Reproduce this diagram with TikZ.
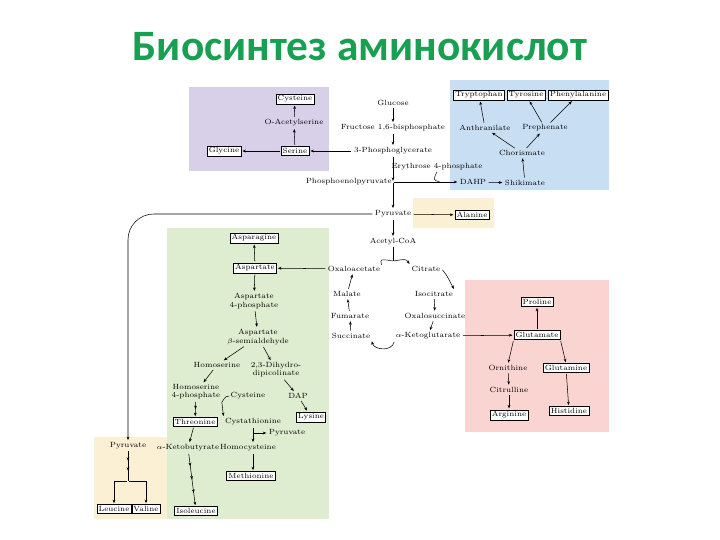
\documentclass[tikz,border=0pt]{standalone}
\usepackage{fontspec}
\newfontfamily\titlefont{Carlito}
\usetikzlibrary{arrows.meta,decorations.markings}

\definecolor{titlegreen}{RGB}{24,160,82}
\definecolor{serbg}{RGB}{216,208,232}
\definecolor{arobg}{RGB}{200,222,242}
\definecolor{alabg}{RGB}{252,240,212}
\definecolor{aspbg}{RGB}{222,236,208}
\definecolor{glubg}{RGB}{249,212,208}

\tikzset{
  met/.style={font=\fontsize{6.4}{7}\selectfont, inner sep=1pt, align=center},
  aa/.style={met, draw, fill=white, inner sep=1.5pt, line width=0.4pt},
  rxn/.style={-{Stealth[length=3pt,width=2.4pt]}, line width=0.45pt, shorten <=1pt, shorten >=1pt},
  multistep/.style={line width=0.45pt, decoration={markings,
      mark=between positions #1 and 0.98 step #1 with {\arrow{Stealth[length=3pt,width=2.4pt]}}},
    postaction={decorate}},
}

\begin{document}
\begin{tikzpicture}[x=0.03cm,y=-0.03cm]
\useasboundingbox (0,0) rectangle (720,540);

\node[font=\titlefont\bfseries\fontsize{37}{40}\selectfont, text=titlegreen] (title) at (360,47) {Биосинтез аминокислот};

% shaded groups
\fill[serbg] (189,87) rectangle (329,171);
\fill[arobg] (450,80) rectangle (609,190);
\fill[alabg] (413,198) rectangle (494,228);
\fill[aspbg] (167,228) rectangle (329,519);
\fill[glubg] (465,280) rectangle (609,432);
\fill[alabg] (94,437) rectangle (167,519);

% serine family
\node[aa] (cys) at (295,99) {Cysteine};
\node[met] (oas) at (294,123) {O-Acetylserine};
\node[aa] (gly) at (224,151) {Glycine};
\node[aa] (ser) at (295,151) {Serine};

% glycolysis
\node[met] (glc) at (393,103) {Glucose};
\node[met] (f16) at (393,128) {Fructose 1,6-bisphosphate};
\node[met] (pga) at (393,151) {3-Phosphoglycerate};
\node[met] (e4p) at (437,167) {Erythrose 4-phosphate};
\node[met, anchor=east] (pep) at (393,182) {Phosphoenolpyruvate};
\coordinate (pepj) at (393,182);
\coordinate (e4pj) at (440,182);

% aromatic family
\node[met] (dahp) at (473,182) {DAHP};
\node[met] (shk) at (525,183) {Shikimate};
\node[met] (cho) at (522,153) {Chorismate};
\node[met] (ant) at (485,128) {Anthranilate};
\node[met] (pph) at (545,128) {Prephenate};
\node[aa] (trp) at (479,95) {Tryptophan};
\node[aa] (tyr) at (526,95) {Tyrosine};
\node[aa] (phe) at (578,95) {Phenylalanine};

% pyruvate
\node[met] (pyr) at (393,214) {Pyruvate};
\node[aa] (ala) at (472,215) {Alanine};
\node[met] (acoa) at (393,242) {Acetyl-CoA};
\coordinate (tcaj) at (393,261);

% citric acid cycle
\node[met] (oaa) at (354,269) {Oxaloacetate};
\node[met] (cit) at (426,269) {Citrate};
\node[met] (mal) at (347,294) {Malate};
\node[met] (ict) at (434,294) {Isocitrate};
\node[met] (fum) at (350,316) {Fumarate};
\node[met] (osc) at (435,316) {Oxalosuccinate};
\node[met] (suc) at (351,336) {Succinate};
\node[met] (akg) at (428,336) {$\alpha$-Ketoglutarate};

% aspartate family
\node[aa] (asn) at (254,238) {Asparagine};
\node[aa] (asp) at (255,268) {Aspartate};
\node[met] (asp4p) at (254,301) {Aspartate\\4-phosphate};
\node[met] (asa) at (258,337) {Aspartate\\$\beta$-semialdehyde};
\node[met] (hse) at (217,365) {Homoserine};
\node[met] (dhdp) at (276,370) {2,3-Dihydro-\\dipicolinate};
\node[met] (hs4p) at (196,392) {Homoserine\\4-phosphate};
\node[met] (cys2) at (248,396) {Cysteine};
\node[met] (dap) at (298,396) {DAP};
\node[aa] (lys) at (311,417) {Lysine};
\node[aa] (thr) at (195,422) {Threonine};
\node[met] (cysta) at (253,422) {Cystathionine};
\node[met] (pyr2) at (287,433) {Pyruvate};
\coordinate (cbr) at (253,433);
\node[met] (akb) at (188,448) {$\alpha$-Ketobutyrate};
\node[met] (hcy) at (248,448) {Homocysteine};
\node[aa] (Met) at (251,476) {Methionine};
\node[aa] (ile) at (196,511) {Isoleucine};
\coordinate (xj) at (222,402);

% pyruvate family
\node[met] (pyrl) at (128,446) {Pyruvate};
\coordinate (brk) at (128,481);
\node[aa] (leu) at (114,509) {Leucine};
\node[aa] (val) at (146,509) {Valine};

% glutamate family
\node[aa] (glu) at (537,335) {Glutamate};
\node[aa] (pro) at (537,302) {Proline};
\node[met] (orn) at (508,368) {Ornithine};
\node[aa] (gln) at (566,368) {Glutamine};
\node[met] (citr) at (509,390) {Citrulline};
\node[aa] (arg) at (509,415) {Arginine};
\node[aa] (his) at (569,411) {Histidine};

% connectors
\draw[rxn] (ser) -- (oas);
\draw[rxn] (oas) -- (cys);
\draw[rxn] (ser) -- (gly);
\draw[rxn] (pga) -- (ser);

\draw[rxn] (glc) -- (f16);
\draw[rxn] (f16) -- (pga);
\draw[rxn] (pga) -- (pepj);
\draw[rxn] (pepj) -- (dahp);
\draw (e4p.south) .. controls (433,180) .. (e4pj);
\draw[rxn] (dahp) -- (shk);
\draw[rxn] (shk) -- (cho);
\draw[rxn] (cho) -- (ant);
\draw[rxn] (cho) -- (pph);
\draw[rxn] (ant) -- (trp);
\draw[rxn] (pph) -- (tyr);
\draw[rxn] (pph) -- (phe);

\draw[rxn] (pepj) -- (pyr);
\draw[rxn] (pyr) -- (ala);
\draw[rxn] (pyr) -- (acoa);
\draw[rxn, rounded corners=22] (pyr.west) -| (pyrl.north);

% cycle
\draw (acoa.south) -- (tcaj);
\draw (oaa.north east) .. controls (380,259) .. (tcaj);
\draw[rxn] (tcaj) .. controls (406,259) .. (cit.north west);
\draw[rxn] (cit.east) .. controls (446,274) .. (ict.north east);
\draw[rxn] (ict) -- (osc);
\draw[rxn] (osc) -- (akg);
\draw[rxn] (akg.south west) .. controls (392,352) and (374,350) .. (suc.south east);
\draw[rxn] (suc) -- (fum);
\draw[rxn] (fum) -- (mal);
\draw[rxn] (mal) -- (oaa);
\draw[rxn] (akg) -- (glu);

\draw[rxn] (oaa) -- (asp);
\draw[rxn] (asp) -- (asn);
\draw[rxn] (asp) -- (asp4p);
\draw[rxn] (asp4p) -- (asa);
\draw[rxn] (asa) -- (hse);
\draw[rxn] (asa) -- (dhdp);
\draw[rxn] (hse) -- (hs4p);
\draw[rxn] (dhdp) -- (dap);
\draw[rxn] (dap) -- (lys);
\draw[rxn, multistep=0.5] (hs4p) -- (thr);
\draw[rxn] (hs4p.south east) -- (cysta.north west);
\draw (cys2.west) .. controls (226,396) .. (xj);
\draw[rxn] (cysta.south -| cbr) -- (cbr |- hcy.north);
\draw[rxn] (cbr) -- (pyr2);
\draw[rxn] (cbr |- hcy.south) -- (cbr |- Met.north);
\draw[rxn] (thr) -- (akb);
\draw[rxn, multistep=0.25] (akb) -- (ile);

\draw[multistep=0.33] (pyrl) -- (brk);
\draw[rxn] (brk) -| (leu.north);
\draw[rxn] (brk) -| (val.north);

\draw[rxn] (glu) -- (pro);
\draw[rxn] (glu.south west) -- (orn.north);
\draw[rxn] (glu.south east) -- (gln.north);
\draw[rxn] (orn) -- (citr);
\draw[rxn] (citr) -- (arg);
\draw[rxn] (gln) -- (his);

\end{tikzpicture}
\end{document}
